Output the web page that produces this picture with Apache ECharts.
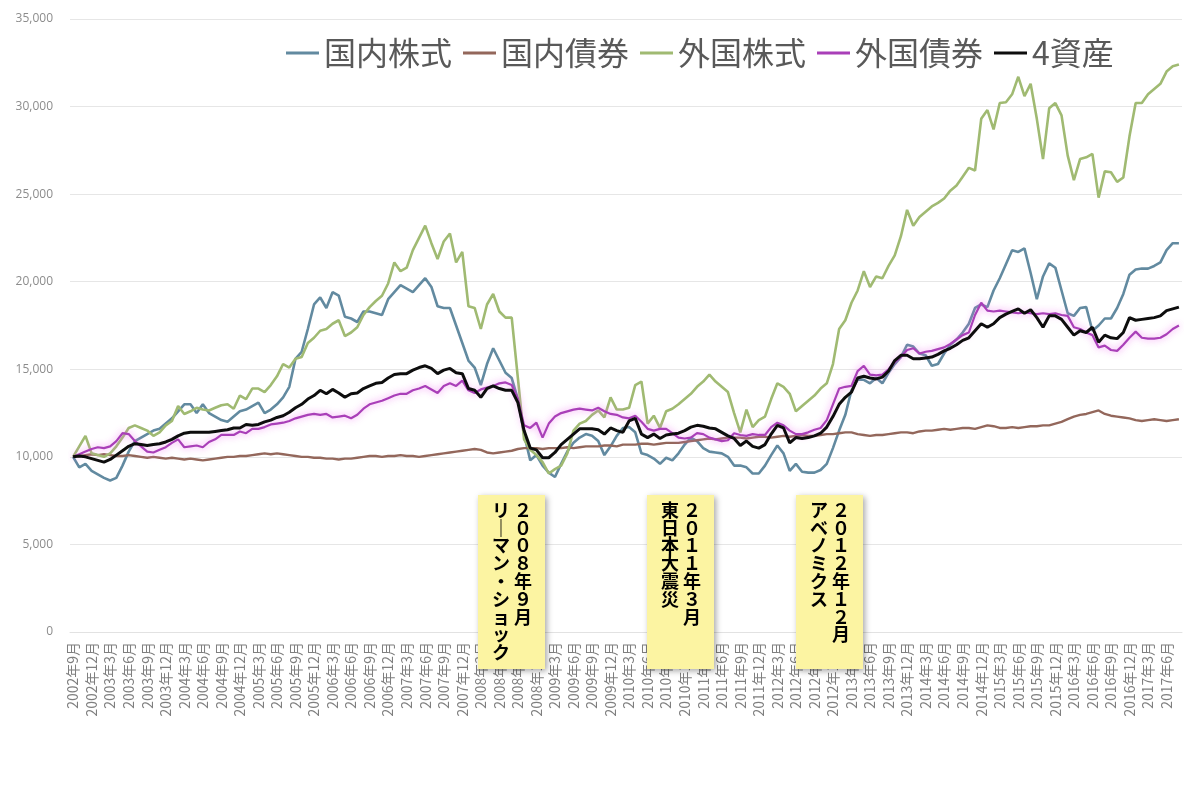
<!DOCTYPE html>
<html>
<head>
<meta charset="utf-8">
<title>4資産</title>
<script src="https://cdn.jsdelivr.net/npm/echarts/dist/echarts.min.js"></script>
<style>
    html, body { margin: 0; padding: 0; background: #fff; }
    #main { width: 1200px; height: 786px; }
</style>
</head>
<body>
<div id="main"></div>
<script>
// 期間: 2002年9月から180か月
var startYear = 2002;
var startMonth = 9;
var monthCount = 180;

var seriesNames = ['国内株式', '国内債券', '外国株式', '外国債券', '4資産'];

var domesticStock = [
    10000, 9400, 9600, 9200, 9000, 8800, 8650, 8800, 9500, 10300,
    10900, 11100, 11300, 11500, 11600, 11900, 12200, 12600, 13000, 13000,
    12500, 13000, 12500, 12300, 12100, 12000, 12300, 12600, 12700, 12900,
    13100, 12500, 12700, 13000, 13400, 14000, 15600, 16000, 17300, 18700,
    19100, 18500, 19400, 19200, 18000, 17900, 17700, 18300, 18300, 18200,
    18100, 19000, 19400, 19800, 19600, 19400, 19800, 20200, 19700, 18600,
    18500, 18500, 17500, 16500, 15500, 15100, 14100, 15300, 16200, 15500,
    14800, 14500, 13300, 11300, 9800, 10100, 9500, 9100, 8850, 9600,
    10300, 10800, 11100, 11300, 11200, 10900, 10100, 10600, 11200, 11650,
    11700, 11400, 10200, 10100, 9900, 9600, 9950, 9800, 10200, 10700,
    11100, 10900, 10500, 10300, 10250, 10200, 10000, 9500, 9500, 9400,
    9050, 9050, 9500, 10100, 10650, 10200, 9200, 9600, 9150, 9100,
    9100, 9250, 9600, 10500, 11500, 12400, 13800, 14400, 14400, 14200,
    14500, 14200, 14800, 15300, 15700, 16400, 16300, 15900, 15800, 15200,
    15300, 15900, 16400, 16700, 17100, 17600, 18500, 18700, 18550, 19500,
    20200, 21000, 21800, 21700, 21900, 20500, 19000, 20300, 21050, 20800,
    19500, 18200, 18050, 18500, 18550, 17200, 17500, 17900, 17900, 18500,
    19300, 20400, 20700, 20750, 20750, 20900, 21100, 21800, 22200, 22200
];

var domesticBond = [
    10000, 10050, 10100, 10150, 10100, 10150, 10100, 10050, 10050, 10100,
    10050, 10000, 9950, 10000, 9950, 9900, 9950, 9900, 9850, 9900,
    9850, 9800, 9850, 9900, 9950, 10000, 10000, 10050, 10050, 10100,
    10150, 10200, 10150, 10200, 10150, 10100, 10050, 10000, 10000, 9950,
    9950, 9900, 9900, 9850, 9900, 9900, 9950, 10000, 10050, 10050,
    10000, 10050, 10050, 10100, 10050, 10050, 10000, 10050, 10100, 10150,
    10200, 10250, 10300, 10350, 10400, 10450, 10400, 10250, 10200, 10250,
    10300, 10350, 10450, 10500, 10500, 10500, 10450, 10500, 10500, 10500,
    10550, 10500, 10550, 10600, 10600, 10600, 10650, 10650, 10600, 10700,
    10700, 10700, 10750, 10750, 10700, 10750, 10800, 10800, 10800, 10850,
    10900, 10950, 11000, 11050, 11000, 11050, 11100, 11100, 11100, 11050,
    11100, 11150, 11150, 11100, 11150, 11200, 11150, 11200, 11250, 11200,
    11200, 11250, 11300, 11300, 11350, 11400, 11400, 11300, 11250, 11200,
    11250, 11250, 11300, 11350, 11400, 11400, 11350, 11450, 11500, 11500,
    11550, 11600, 11550, 11600, 11650, 11650, 11600, 11700, 11800, 11750,
    11650, 11650, 11700, 11650, 11700, 11750, 11750, 11800, 11800, 11900,
    12000, 12150, 12300, 12400, 12450, 12550, 12650, 12450, 12350, 12300,
    12250, 12200, 12100, 12050, 12100, 12150, 12100, 12050, 12100, 12150
];

var foreignStock = [
    10000, 10600, 11200, 10200, 10100, 10000, 10200, 10600, 11100, 11650,
    11800, 11650, 11500, 11200, 11400, 11800, 12050, 12900, 12450, 12600,
    12800, 12700, 12650, 12800, 12950, 13000, 12750, 13500, 13300, 13900,
    13900, 13700, 14100, 14600, 15300, 15100, 15600, 15700, 16500, 16800,
    17200, 17300, 17600, 17800, 16900, 17100, 17400, 18100, 18550, 18900,
    19200, 19900, 21100, 20600, 20800, 21800, 22500, 23200, 22200, 21300,
    22300, 22750, 21100, 21700, 18600, 18500, 17300, 18700, 19300, 18300,
    17950, 17950, 14500, 11000, 10400, 10100, 9700, 9050, 9300, 9500,
    10200, 11500, 11900, 12050, 12400, 12650, 12250, 13400, 12700, 12700,
    12800, 14100, 14300, 11900, 12350, 11650, 12600, 12750, 13000, 13300,
    13600, 14000, 14300, 14700, 14300, 14000, 13700, 12500, 11400, 12700,
    11700, 12100, 12300, 13300, 14200, 14000, 13600, 12600, 12900, 13200,
    13500, 13900, 14200, 15300, 17300, 17800, 18800, 19500, 20600, 19700,
    20300, 20200, 20900, 21500, 22600, 24100, 23200, 23700, 24000, 24300,
    24500, 24750, 25200, 25500, 26000, 26500, 26350, 29300, 29800, 28700,
    30200, 30250, 30700, 31700, 30600, 31300, 29300, 27000, 29900, 30200,
    29500, 27200, 25800, 27000, 27100, 27300, 24800, 26300, 26250, 25700,
    25950, 28300, 30200, 30200, 30700, 31000, 31300, 32000, 32300, 32400
];

var foreignBond = [
    10000, 10150, 10300, 10450, 10550, 10500, 10600, 10900, 11350, 11300,
    10900, 10600, 10300, 10250, 10400, 10550, 10800, 11000, 10550, 10600,
    10650, 10550, 10850, 11000, 11250, 11250, 11250, 11450, 11350, 11600,
    11600, 11700, 11850, 11900, 11950, 12050, 12200, 12300, 12400, 12450,
    12400, 12450, 12250, 12300, 12350, 12200, 12400, 12750, 13000, 13100,
    13200, 13350, 13500, 13600, 13600, 13800, 13900, 14050, 13850, 13650,
    14050, 14200, 14050, 14350, 13800, 13650, 13850, 13950, 14050, 14200,
    14250, 14100, 13300, 11800, 11650, 11950, 11100, 11900, 12300, 12500,
    12600, 12700, 12750, 12700, 12650, 12800, 12600, 12450, 12400, 12250,
    12200, 12350, 12000, 11600, 11500, 11600, 11600, 11350, 11100, 11050,
    11100, 11350, 11300, 11100, 11000, 10900, 10950, 11350, 11250, 11200,
    11300, 11250, 11250, 11700, 11950, 11800, 11500, 11300, 11300, 11400,
    11550, 11650, 12100, 13000, 13900, 14000, 14050, 14900, 15200, 14700,
    14650, 14700, 15000, 15400, 15700, 16100, 16200, 15900, 16000, 16050,
    16150, 16250, 16450, 16700, 16950, 17100, 18100, 18800, 18350, 18300,
    18350, 18300, 18250, 18200, 18250, 18200, 18150, 18200, 18150, 18200,
    18100, 18050, 17400, 17300, 17100, 16950, 16250, 16350, 16100, 16050,
    16400, 16800, 17150, 16800, 16750, 16750, 16800, 17000, 17300, 17500
];

var fourAssets = [
    10000, 10050, 10000, 9900, 9800, 9700, 9850, 10100, 10350, 10600,
    10750, 10700, 10650, 10700, 10750, 10850, 11000, 11200, 11350, 11400,
    11400, 11400, 11400, 11450, 11500, 11550, 11650, 11650, 11850, 11800,
    11850, 12000, 12100, 12250, 12350, 12550, 12800, 13000, 13300, 13500,
    13800, 13600, 13850, 13650, 13400, 13600, 13650, 13900, 14050, 14200,
    14250, 14500, 14700, 14750, 14750, 14950, 15100, 15200, 15050, 14750,
    14950, 15050, 14800, 14750, 13900, 13800, 13400, 13900, 14050, 13900,
    13800, 13800, 13100, 11500, 10500, 10400, 9950, 9950, 10250, 10700,
    11000, 11300, 11600, 11600, 11600, 11550, 11300, 11650, 11500, 11400,
    12050, 12200, 11300, 11100, 11300, 11050, 11250, 11300, 11350, 11500,
    11700, 11800, 11750, 11650, 11600, 11400, 11200, 11050, 10650, 10900,
    10600, 10500, 10700, 11300, 11800, 11650, 10800, 11100, 11050, 11100,
    11200, 11350, 11700, 12300, 13000, 13400, 13700, 14500, 14600, 14500,
    14450, 14550, 14900, 15500, 15800, 15800, 15600, 15600, 15650, 15700,
    15850, 16050, 16200, 16400, 16650, 16800, 17200, 17600, 17400, 17600,
    17950, 18150, 18300, 18450, 18200, 18400, 17950, 17400, 18050, 18050,
    17850, 17400, 16950, 17200, 17100, 17400, 16550, 16950, 16800, 16750,
    17100, 17950, 17800, 17850, 17900, 17950, 18050, 18350, 18450, 18550
];

// 吹き出し（縦書き）
var eventDates = ['２００８年９月', '２０１１年３月', '２０１２年１２月'];
var eventNames = ['リーマン・ショック', '東日本大震災', 'アベノミクス'];

var yMax = 35000;
var yStep = 5000;

var months = [];
for (var k = 0; k < monthCount; k++) {
    var mm = startMonth - 1 + k;
    var yy = startYear + Math.floor(mm / 12);
    months.push(yy + '年' + (mm % 12 + 1) + '月');
}

function tate(s) {
    // 縦書き用に長音を縦棒に
    return s.split('').map(function(c) {
        return c === 'ー' ? '｜' : c;
    }).join('\n');
}

var boxLeft = [478, 647, 796];
var graphics = [];
for (var j = 0; j < eventDates.length; j++) {
    graphics.push({
        type: 'group',
        x: boxLeft[j],
        y: 495,
        zlevel: 2,
        children: [{
            type: 'rect',
            zlevel: 2,
            z: 100,
            shape: { x: 0, y: 0, width: 67, height: 174 },
            style: {
                fill: '#fcf4a2',
                shadowBlur: 6,
                shadowOffsetX: 2,
                shadowOffsetY: 2,
                shadowColor: 'rgba(0,0,0,0.35)'
            }
        }, {
            type: 'text',
            zlevel: 2,
            z: 101,
            x: 45,
            y: 6,
            style: {
                text: tate(eventDates[j]),
                font: 'bold 18px "Noto Sans CJK JP"',
                lineHeight: 17.8,
                fill: '#000',
                align: 'center',
                verticalAlign: 'top'
            }
        }, {
            type: 'text',
            zlevel: 2,
            z: 101,
            x: 23,
            y: 6,
            style: {
                text: tate(eventNames[j]),
                font: 'bold 18px "Noto Sans CJK JP"',
                lineHeight: 17.8,
                fill: '#000',
                align: 'center',
                verticalAlign: 'top'
            }
        }]
    });
}

var myChart = echarts.init(document.getElementById('main'));

var lineColors = ['#628aa0', '#93675b', '#a0ba72', '#a93fb8', '#0d0d0d'];
var lineWidths = [2.6, 2.4, 2.6, 2.2, 3];
var allData = [domesticStock, domesticBond, foreignStock, foreignBond, fourAssets];

var seriesList = [];
for (var s = 0; s < seriesNames.length; s++) {
    var ls = { color: lineColors[s], width: lineWidths[s] };
    if (s === 3) {
        ls.shadowBlur = 7;
        ls.shadowColor = 'rgba(240,120,240,0.85)';
    }
    seriesList.push({
        name: seriesNames[s],
        type: 'line',
        data: allData[s],
        symbol: 'none',
        smooth: false,
        lineStyle: ls,
        itemStyle: { color: lineColors[s] }
    });
}

var option = {
    animation: false,
    backgroundColor: '#fff',
    color: lineColors,
    grid: {
        left: 70,
        right: 18,
        top: 19,
        bottom: 154
    },
    legend: {
        data: seriesNames,
        left: 281,
        top: 32,
        icon: 'rect',
        itemWidth: 33,
        itemHeight: 3,
        itemGap: 11,
        textStyle: {
            fontFamily: 'Noto Sans CJK JP',
            fontSize: 32,
            color: '#595959'
        }
    },
    xAxis: {
        type: 'category',
        data: months,
        boundaryGap: true,
        axisLine: { show: true, lineStyle: { color: '#e2e2e2' } },
        axisTick: { show: false },
        axisLabel: {
            interval: 2,
            rotate: 90,
            margin: 10,
            fontFamily: 'Noto Sans CJK JP',
            fontSize: 14,
            color: '#7f7f7f'
        }
    },
    yAxis: {
        type: 'value',
        min: 0,
        max: yMax,
        interval: yStep,
        axisLine: { show: false },
        axisTick: { show: false },
        splitLine: { lineStyle: { color: '#e6e6e6' } },
        axisLabel: {
            margin: 17,
            fontFamily: 'Open Sans',
            fontSize: 12,
            color: '#8c8c8c',
            formatter: function(v) {
                return v.toLocaleString('en-US');
            }
        }
    },
    graphic: graphics,
    series: seriesList
};

myChart.setOption(option);
</script>
</body>
</html>
